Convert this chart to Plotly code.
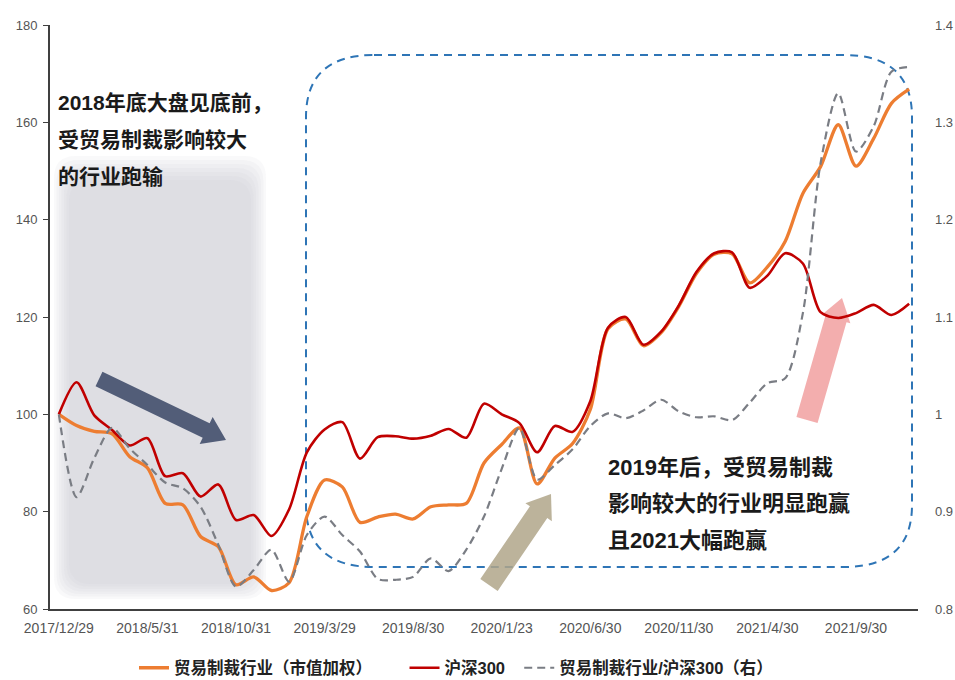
import plotly.graph_objects as go

# Month-end trading dates
dates = [
    "2017/12/29", "2018/1/31", "2018/2/28", "2018/3/30", "2018/4/27", "2018/5/31",
    "2018/6/29", "2018/7/31", "2018/8/31", "2018/9/28", "2018/10/31", "2018/11/30",
    "2018/12/28", "2019/1/31", "2019/2/28", "2019/3/29", "2019/4/30", "2019/5/31",
    "2019/6/28", "2019/7/31", "2019/8/30", "2019/9/30", "2019/10/31", "2019/11/29",
    "2019/12/31", "2020/1/23", "2020/2/28", "2020/3/31", "2020/4/30", "2020/5/29",
    "2020/6/30", "2020/7/31", "2020/8/31", "2020/9/30", "2020/10/30", "2020/11/30",
    "2020/12/31", "2021/1/29", "2021/2/26", "2021/3/31", "2021/4/30", "2021/5/31",
    "2021/6/30", "2021/7/30", "2021/8/31", "2021/9/30", "2021/10/29", "2021/11/30",
    "2021/12/31",
]

# 贸易制裁行业（市值加权），起点=100
sanction_idx = [
    100.0, 97.7, 96.5, 96.0, 91.3, 89.0, 81.7, 81.4, 74.9, 72.8,
    65.0, 66.6, 63.8, 65.4, 79.0, 86.5, 85.1, 77.8, 78.9, 79.5,
    78.5, 81.0, 81.4, 81.7, 90.0, 93.8, 97.2, 85.7, 91.0, 94.0,
    101.0, 117.6, 119.6, 114.1, 116.8, 122.2, 129.0, 132.9, 133.0, 127.0,
    130.3, 135.5, 145.4, 150.9, 159.5, 151.0, 156.7, 163.9, 166.8,
]

# 沪深300，起点=100
hs300 = [
    100.0, 106.6, 99.8, 96.8, 93.6, 95.1, 87.3, 87.9, 83.1, 85.6,
    78.3, 79.3, 75.0, 80.5, 92.2, 96.9, 98.4, 90.9, 95.3, 95.5,
    95.0, 95.6, 97.0, 95.2, 102.2, 100.0, 98.2, 92.2, 97.6, 96.4,
    102.7, 117.8, 120.0, 114.3, 117.0, 122.4, 129.3, 133.1, 133.3, 126.0,
    128.5, 133.1, 131.0, 121.0, 119.8, 120.8, 122.5, 120.4, 122.7,
]

# 贸易制裁行业/沪深300（右轴）
ratio = [
    1.000, 0.915, 0.955, 0.986, 0.965, 0.948, 0.930, 0.924, 0.905, 0.866,
    0.823, 0.840, 0.861, 0.828, 0.876, 0.895, 0.876, 0.859, 0.831, 0.830,
    0.833, 0.852, 0.839, 0.861, 0.895, 0.944, 0.986, 0.933, 0.948, 0.964,
    0.988, 1.001, 0.996, 1.004, 1.015, 1.003, 0.997, 0.998, 0.994, 1.012,
    1.032, 1.037, 1.104, 1.258, 1.330, 1.270, 1.296, 1.352, 1.357,
]

tick_dates = dates[::5]

names = [
    "贸易制裁行业（市值加权）\u00a0\u00a0\u00a0\u00a0\u00a0\u00a0",
    "沪深300\u00a0\u00a0",
    "贸易制裁行业/沪深300（右）",
]

W, H = 955, 680
ML, MR, MT, MB = 50, 37, 25, 71
PW, PH = W - ML - MR, H - MT - MB


def fx(x):
    return (x - ML) / PW


def fy(y):
    return (H - MB - y) / PH


def rounded_rect(x0, y0, x1, y1, rx, ry):
    pts = [
        f"M {fx(x0 + rx)} {fy(y0)}",
        f"L {fx(x1 - rx)} {fy(y0)}",
        f"Q {fx(x1)} {fy(y0)} {fx(x1)} {fy(y0 + ry)}",
        f"L {fx(x1)} {fy(y1 - ry)}",
        f"Q {fx(x1)} {fy(y1)} {fx(x1 - rx)} {fy(y1)}",
        f"L {fx(x0 + rx)} {fy(y1)}",
        f"Q {fx(x0)} {fy(y1)} {fx(x0)} {fy(y1 - ry)}",
        f"L {fx(x0)} {fy(y0 + ry)}",
        f"Q {fx(x0)} {fy(y0)} {fx(x0 + rx)} {fy(y0)}",
        "Z",
    ]
    return " ".join(pts)


def block_arrow(tail, tip, body_w, head_w, head_len):
    tx, ty = tail
    hx, hy = tip
    dx, dy = hx - tx, hy - ty
    L = (dx * dx + dy * dy) ** 0.5
    ux, uy = dx / L, dy / L
    nx, ny = -uy, ux
    neck = (hx - ux * head_len, hy - uy * head_len)
    b, h = body_w / 2, head_w / 2
    poly = [
        (tx + nx * b, ty + ny * b),
        (neck[0] + nx * b, neck[1] + ny * b),
        (neck[0] + nx * h, neck[1] + ny * h),
        (hx, hy),
        (neck[0] - nx * h, neck[1] - ny * h),
        (neck[0] - nx * b, neck[1] - ny * b),
        (tx - nx * b, ty - ny * b),
    ]
    d = "M " + " L ".join(f"{fx(px)} {fy(py)}" for px, py in poly) + " Z"
    return d


fig = go.Figure()

fig.add_trace(go.Scatter(
    x=dates, y=sanction_idx, name=names[0], mode="lines",
    line=dict(color="#ED7D31", width=3.3, shape="spline", smoothing=0.8),
))
fig.add_trace(go.Scatter(
    x=dates, y=hs300, name=names[1], mode="lines",
    line=dict(color="#C00000", width=2.6, shape="spline", smoothing=0.8),
))
fig.add_trace(go.Scatter(
    x=dates, y=ratio, name=names[2], mode="lines", yaxis="y2",
    line=dict(color="#7a7d84", width=2.2, dash="8px,5px", shape="spline", smoothing=0.8),
))

shapes = []
# soft grey panel behind the 2018 decline (stacked layers fade the edge)
for k in range(7):
    inset = 2.5 * k
    shapes.append(dict(
        type="path", xref="paper", yref="paper", layer="below",
        path=rounded_rect(54 + inset, 156 + inset * 1.6, 266 - inset, 599 - inset, 22, 22),
        fillcolor="rgba(196,198,207,0.10)", line=dict(width=0),
    ))
# blue dashed frame around the post-2019 period
shapes.append(dict(
    type="path", xref="paper", yref="paper", layer="below",
    path=rounded_rect(306, 55, 912, 567, 68, 62),
    fillcolor="rgba(0,0,0,0)",
    line=dict(color="#2E75B6", width=2, dash="8px,6px"),
))
# arrows
shapes.append(dict(
    type="path", xref="paper", yref="paper", layer="above",
    path=block_arrow((99, 379), (226, 440), 16, 30, 22),
    fillcolor="#525d78", line=dict(width=0),
))
shapes.append(dict(
    type="path", xref="paper", yref="paper", layer="below",
    path=block_arrow((489, 585), (551, 494), 21, 32, 22),
    fillcolor="rgba(176,166,138,0.85)", line=dict(width=0),
))
shapes.append(dict(
    type="path", xref="paper", yref="paper", layer="below",
    path=block_arrow((807, 420), (842, 298), 22, 30, 22),
    fillcolor="rgba(236,130,130,0.65)", line=dict(width=0),
))

cjk = "Liberation Sans, Noto Sans CJK SC, sans-serif"
annotations = []
left_lines = ["2018年底大盘见底前，", "受贸易制裁影响较大", "的行业跑输"]
for k, t in enumerate(left_lines):
    annotations.append(dict(
        x=fx(56), y=fy(102 + 37 * k), xref="paper", yref="paper",
        xanchor="left", yanchor="middle", showarrow=False, text=t,
        font=dict(family=cjk, size=21, color="#1a1a1a", weight="bold"),
    ))
right_lines = ["2019年后，受贸易制裁", "影响较大的行业明显跑赢", "且2021大幅跑赢"]
for k, t in enumerate(right_lines):
    annotations.append(dict(
        x=fx(606), y=fy(467 + 36.5 * k), xref="paper", yref="paper",
        xanchor="left", yanchor="middle", showarrow=False, text=t,
        font=dict(family=cjk, size=22, color="#1a1a1a", weight="bold"),
    ))

xtick_font = dict(family="Liberation Sans, Arial, sans-serif", size=14, color="#555555")
ytick_font = dict(family="Liberation Sans, Arial, sans-serif", size=13, color="#555555")

fig.update_layout(
    width=W, height=H,
    margin=dict(l=ML, r=MR, t=MT, b=MB, pad=0, autoexpand=False),
    paper_bgcolor="white", plot_bgcolor="white",
    showlegend=True,
    legend=dict(
        orientation="h", x=fx(134), xanchor="left", y=fy(668), yanchor="middle",
        font=dict(family=cjk, size=16.5, color="#222222", weight="bold"),
        bgcolor="rgba(0,0,0,0)", itemwidth=30, tracegroupgap=0,
    ),
    xaxis=dict(
        type="category", range=[-0.5, len(dates) - 0.5], automargin=False,
        tickmode="array", tickvals=tick_dates, ticktext=tick_dates,
        showline=True, linecolor="#404040", linewidth=2,
        ticks="", showgrid=False, zeroline=False,
        tickfont=xtick_font, ticklabelstandoff=5,
    ),
    yaxis=dict(
        range=[60, 180], dtick=20, tick0=60, automargin=False,
        showline=True, linecolor="#404040", linewidth=2,
        ticks="outside", ticklen=5, tickcolor="#404040", tickwidth=1,
        showgrid=False, zeroline=False, tickfont=ytick_font, ticklabelstandoff=3,
    ),
    yaxis2=dict(
        overlaying="y", side="right", range=[0.8, 1.4], dtick=0.1, tick0=0.8,
        automargin=False,
        showline=False, ticks="", showgrid=False, zeroline=False,
        tickfont=ytick_font, ticklabelstandoff=16,
    ),
    shapes=shapes,
    annotations=annotations,
)

fig.write_html("out.html")
